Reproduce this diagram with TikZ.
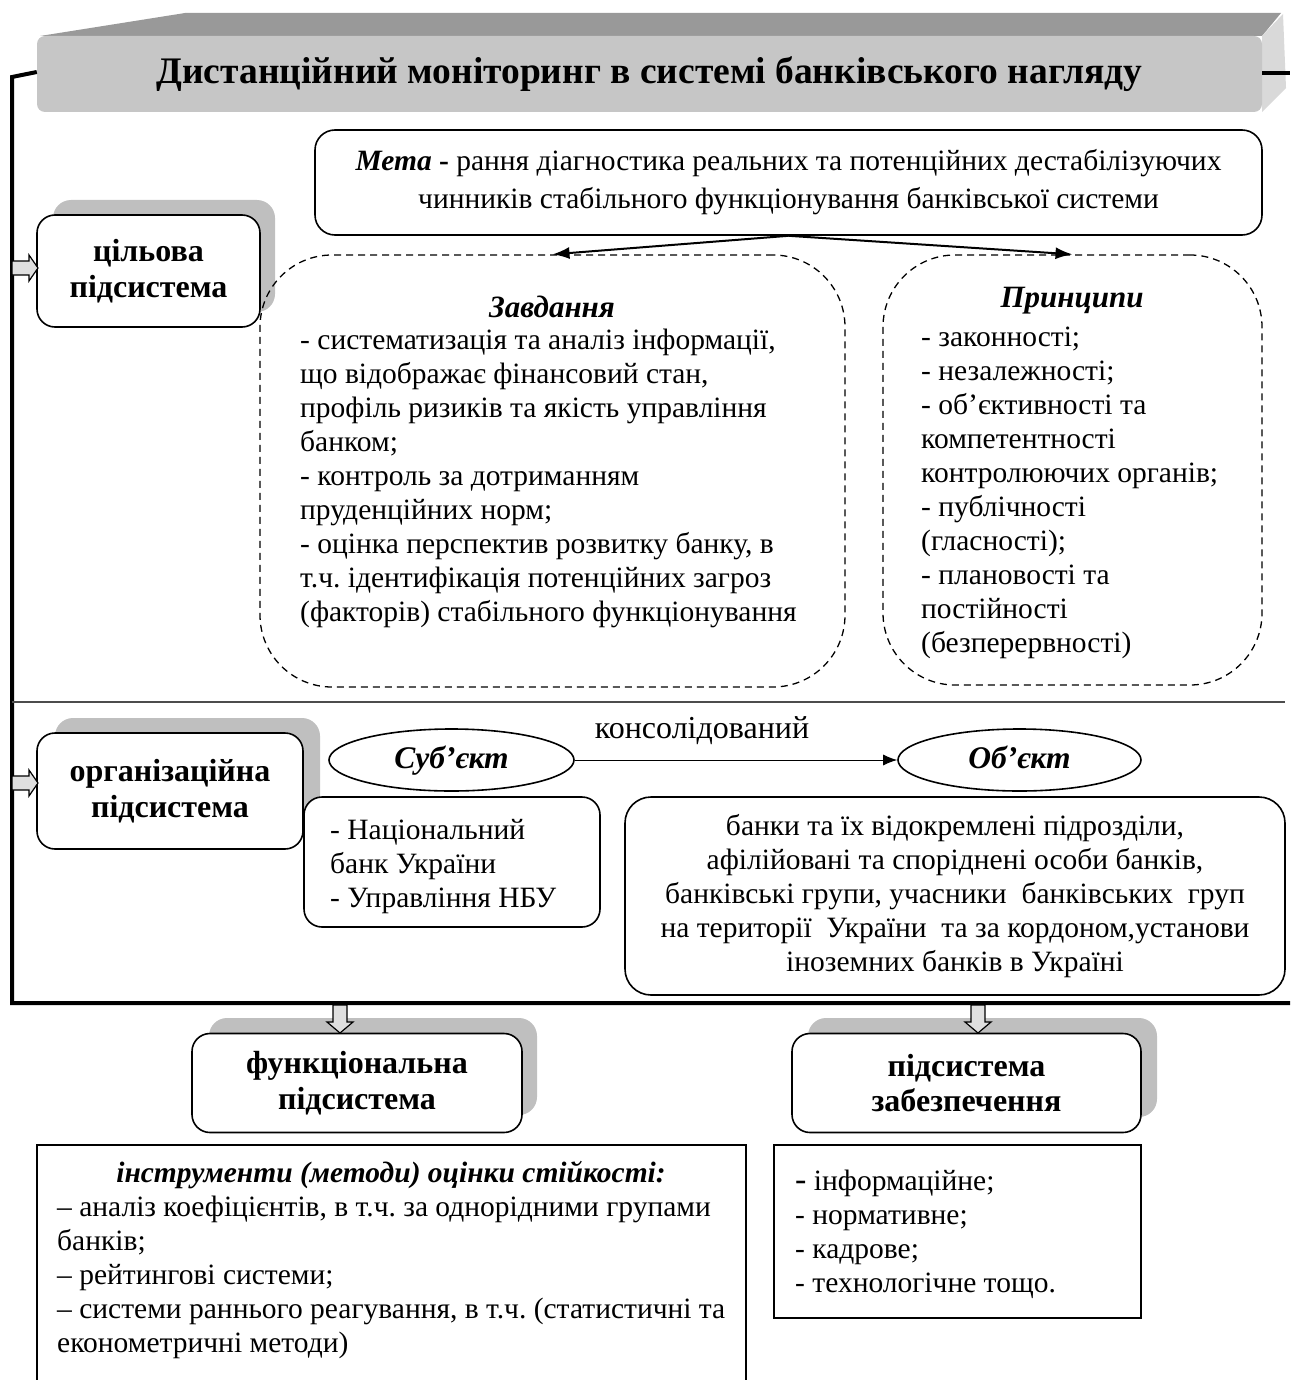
\documentclass[tikz,border=0pt]{standalone}
\usepackage{fontspec}
\setmainfont{Liberation Serif}
\usetikzlibrary{arrows.meta,shapes.geometric}

\begin{document}
\frenchspacing
\begin{tikzpicture}[x=1pt,y=-1pt,
  frame/.style={line width=4pt},
  box/.style={draw, line width=1.6pt, fill=white, rounded corners=18pt, inner sep=0pt, align=center},
  shadowbox/.style={fill=gray!50, draw=none, rounded corners=18pt, inner sep=0pt},
  subsys/.style={box, font=\bfseries\fontsize{32pt}{35.5pt}\selectfont},
  dashbox/.style={draw, line width=1.3pt, dash pattern=on 7pt off 5pt, rounded corners=72pt, inner sep=0pt},
  txt/.style={inner sep=0pt, font=\fontsize{29.5pt}{34pt}\selectfont},
  heading/.style={inner sep=0pt, font=\bfseries\itshape\fontsize{31pt}{34pt}\selectfont},
  oval/.style={draw, ellipse, line width=1.6pt, fill=white, inner sep=0pt,
               text height=22pt, text depth=6pt,
               font=\bfseries\itshape\fontsize{31.5pt}{34pt}\selectfont},
  blockarrow/.style={draw=black, line width=1.2pt, fill=gray!25, line join=miter},
  plainbox/.style={draw, line width=1.6pt, inner sep=0pt},
  tip/.style={-{Latex[length=17pt,width=12pt]}}
]
\useasboundingbox (0,0) rectangle (1290,1380);

% ---------- title block (3D bar) ----------
\fill[gray!80] (40,36) -- (185,13) -- (1281,13) -- (1262,36) -- cycle;
\fill[gray!30] (1262,36) -- (1283,14) -- (1286,88) -- (1262,112) -- cycle;
\node[fill=gray!45, rounded corners=8pt, minimum width=1225pt, minimum height=76pt, inner sep=0pt,
      font=\bfseries\fontsize{37.5pt}{42pt}\selectfont] (title) at (649.5,74)
      {Дистанційний моніторинг в системі банківського нагляду};

% ---------- frame lines ----------
\coordinate (fTL) at (12,77);
\coordinate (fBL) at (12,1003);
\coordinate (fBR) at (1290,1003);
\coordinate (fR) at (1290,73);
\draw[frame] (title.west |- 0,72) -- (fTL) -- (fBL) -- (fBR);
\draw[frame] (title.east |- 0,73) -- (fR);
\coordinate (sepL) at (12,702);
\coordinate (sepR) at (1285,702);
\draw[gray!60!black, line width=1.4pt] (sepL) -- (sepR);

% ---------- target subsystem ----------
\node[shadowbox, minimum width=222pt, minimum height=112pt] (cilsh) at (164,256) {};
\node[subsys, minimum width=223pt, minimum height=112pt] (cil) at (148.5,271) {цільова\\підсистема};
\draw[blockarrow] (12,261) -- (29,261) -- (29,255) -- (38,268) -- (29,281) -- (29,275) -- (12,275) -- cycle;

\node[box, rounded corners=20pt, minimum width=947pt, minimum height=105pt,
      font=\fontsize{29.5pt}{38pt}\selectfont] (meta) at (788.5,182.5)
      {\textbf{\textit{Мета}} \textbf{-} рання діагностика реальних та потенційних дестабілізуючих\\
       чинників стабільного функціонування банківської системи};

\node[dashbox, minimum width=585pt, minimum height=432pt] (zav) at (552.5,471) {};
\node[dashbox, minimum width=379pt, minimum height=430pt] (prn) at (1072.5,470) {};

\draw[tip, line width=2pt] (meta.south) -- (zav.north);
\draw[tip, line width=2pt] (meta.south) -- (prn.north);

\node[heading] (zavh) at (552,307) {Завдання};
\node[txt, anchor=north west, align=left] (zavtxt) at (300,329)
  {- систематизація та аналіз інформації,\\
   що відображає фінансовий стан,\\
   профіль ризиків та якість управління\\
   банком;\\
   - контроль за дотриманням\\
   пруденційних норм;\\
   - оцінка перспектив розвитку банку, в\\
   т.ч. ідентифікація потенційних загроз\\
   (факторів) стабільного функціонування};

\node[heading] (prnh) at (1072,301) {Принципи};
\node[txt, anchor=north west, align=left] (prntxt) at (921,327)
  {- законності;\\
   - незалежності;\\
   - об’єктивності та\\
   компетентності\\
   контролюючих органів;\\
   - публічності\\
   (гласності);\\
   - плановості та\\
   постійності\\
   (безперервності)};

% ---------- organisational subsystem ----------
\node[shadowbox, minimum width=265pt, minimum height=117pt] (orgsh) at (187.5,776.5) {};
\node[subsys, minimum width=266pt, minimum height=116pt] (org) at (170,791) {організаційна\\підсистема};
\draw[blockarrow] (12,776) -- (29,776) -- (29,770) -- (38,783) -- (29,796) -- (29,790) -- (12,790) -- cycle;

\node[oval, minimum width=245pt, minimum height=62pt] (subj) at (451.5,760) {Суб’єкт};
\node[oval, minimum width=243pt, minimum height=62pt] (obj) at (1019.5,760) {Об’єкт};
\draw[-{Latex[length=14pt,width=11pt]}, line width=1pt] (subj.east) -- (obj.west);
\node[txt, font=\fontsize{32pt}{34pt}\selectfont] (cons) at (702,731) {консолідований};

\node[box, minimum width=296pt, minimum height=130pt] (subjbox) at (452,862) {};
\node[txt, anchor=north west, align=left] (subjtxt) at (330,819)
  {- Національний\\ банк України\\ - Управління НБУ};

\node[box, rounded corners=26pt, minimum width=660pt, minimum height=198pt] (objbox) at (955,896) {};
\node[txt, align=center] (objtxt) at (955,896)
  {банки та їх відокремлені підрозділи,\\
   афілійовані та споріднені особи банків,\\
   банківські групи, учасники\ \ банківських\ \ груп\\
   на території\ \ України\ \ та за кордоном,установи\\
   іноземних банків в Україні};

% ---------- functional subsystem ----------
\node[shadowbox, minimum width=328pt, minimum height=97pt] (funsh) at (373,1066.5) {};
\node[subsys, minimum width=330pt, minimum height=99pt] (fun) at (357,1083) {функціональна\\підсистема};
\draw[blockarrow] (333,1005) -- (347,1005) -- (347,1022) -- (353,1022) -- (340,1033) -- (327,1022) -- (333,1022) -- cycle;

\node[plainbox, minimum width=709pt, minimum height=260pt] (instr) at (391.5,1275) {};
\node[heading, font=\bfseries\itshape\fontsize{29.5pt}{34pt}\selectfont] (instrh) at (391,1175)
  {інструменти (методи) оцінки стійкості:};
\node[txt, anchor=north west, align=left] (instrtxt) at (57,1196)
  {– аналіз коефіцієнтів, в т.ч. за однорідними групами\\
   банків;\\
   – рейтингові системи;\\
   – системи раннього реагування, в т.ч. (статистичні та\\
   економетричні методи)};

% ---------- support subsystem ----------
\node[shadowbox, minimum width=349pt, minimum height=99pt] (supsh) at (982.5,1067.5) {};
\node[subsys, minimum width=349pt, minimum height=99pt] (sup) at (966.5,1083) {підсистема\\забезпечення};
\draw[blockarrow] (971,1005) -- (985,1005) -- (985,1022) -- (991,1022) -- (978,1033) -- (965,1022) -- (971,1022) -- cycle;

\node[plainbox, line width=2pt, minimum width=367pt, minimum height=173pt] (suplist) at (957.5,1231.5) {};
\node[txt, anchor=north west, align=left] (suptxt) at (795,1170)
  {{\fontsize{34pt}{34pt}\selectfont -}\ інформаційне;\\
   - нормативне;\\
   - кадрове;\\
   - технологічне тощо.};

\end{tikzpicture}
\end{document}
